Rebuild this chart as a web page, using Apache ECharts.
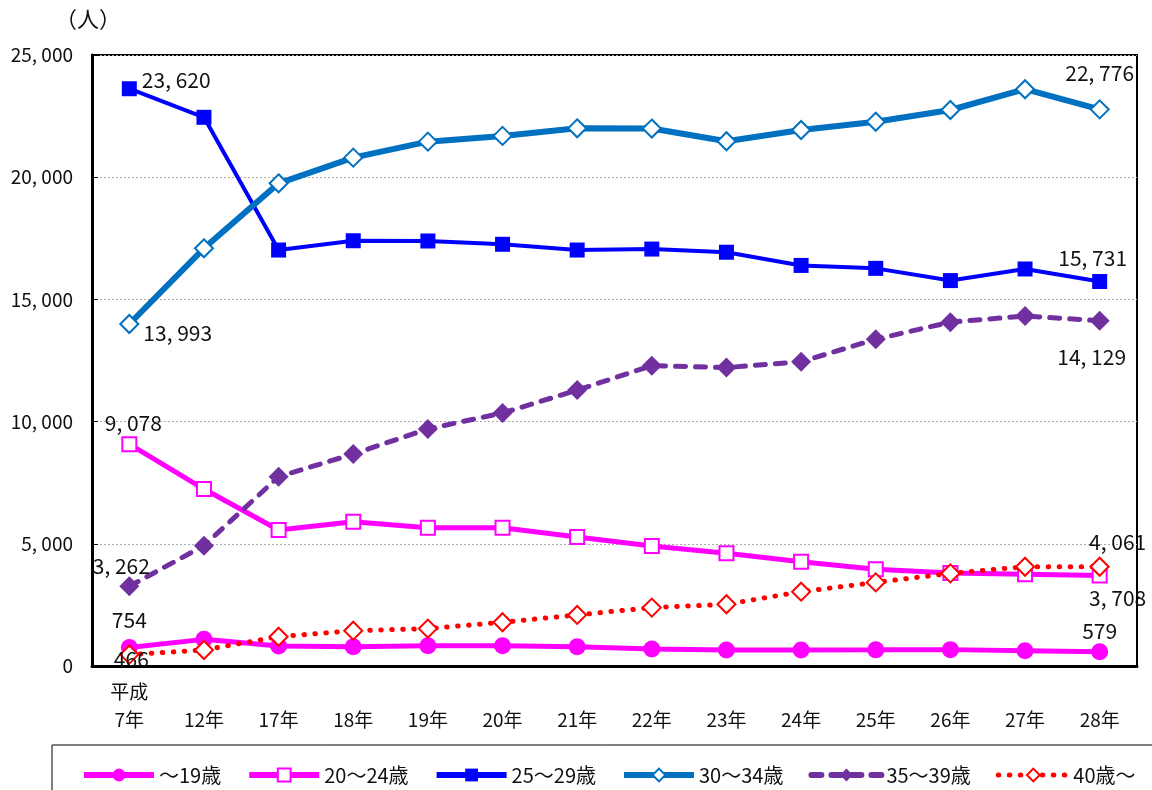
<!DOCTYPE html>
<html>
<head>
<meta charset="utf-8">
<script src="https://cdn.jsdelivr.net/npm/echarts@6/dist/echarts.min.js"></script>
<style>
  html, body { margin: 0; padding: 0; background: #fff; }
  #chart { width: 1152px; height: 790px; }
</style>
</head>
<body>
<div id="chart"></div>
<script>
// 横軸（年）
var years = ['平成\n7年', '12年', '17年', '18年', '19年', '20年', '21年', '22年', '23年', '24年', '25年', '26年', '27年', '28年'];

// 年齢階級別の人数
var age19 = [754, 1090, 820, 790, 830, 830, 790, 695, 655, 655, 660, 670, 625, 579];
var age20_24 = [9078, 7240, 5565, 5905, 5660, 5660, 5280, 4910, 4610, 4270, 3955, 3810, 3750, 3708];
var age25_29 = [23620, 22450, 17020, 17400, 17390, 17255, 17020, 17060, 16930, 16390, 16270, 15770, 16245, 15731];
var age30_34 = [13993, 17090, 19750, 20800, 21455, 21690, 22000, 21990, 21470, 21930, 22270, 22750, 23600, 22776];
var age35_39 = [3262, 4925, 7745, 8675, 9700, 10350, 11290, 12290, 12210, 12450, 13370, 14070, 14320, 14129];
var age40 = [466, 655, 1200, 1445, 1530, 1790, 2090, 2390, 2525, 3040, 3420, 3790, 4060, 4061];

var fmt = function (v) {
    return Number(v).toLocaleString('en-US').replace(/,/g, ', ');
};

// 最初と最後の点だけにラベルを付ける
function withEndLabels(values, firstLabel, lastLabel) {
    return values.map(function (v, i) {
        if (i === 0) return { value: v, label: Object.assign({ show: true }, firstLabel) };
        if (i === values.length - 1) return { value: v, label: Object.assign({ show: true }, lastLabel) };
        return v;
    });
}

var labelText = { fontSize: 21, color: '#111', fontFamily: 'Noto Sans CJK JP', formatter: function (p) { return fmt(p.value); } };

var chart = echarts.init(document.getElementById('chart'));

var option = {
    animation: false,
    textStyle: { fontFamily: 'Noto Sans CJK JP' },
    title: {
        text: '（人）',
        left: 50,
        top: 3,
        textStyle: { fontSize: 22, fontWeight: 'normal', color: '#111' }
    },
    graphic: [{
        type: 'rect',
        shape: { x: 52, y: 745, width: 1200, height: 100 },
        style: { fill: 'none', stroke: '#000', lineWidth: 1 },
        silent: true
    }],
    legend: {
        left: 76,
        top: 760,
        itemWidth: 70,
        itemHeight: 16,
        itemGap: 25,
        textStyle: { fontSize: 20, color: '#111' },
        data: [
            { name: '～19歳', lineStyle: { width: 6 } },
            { name: '20～24歳', lineStyle: { width: 6 } },
            { name: '25～29歳', lineStyle: { width: 6 } },
            { name: '30～34歳', lineStyle: { width: 6 } },
            { name: '35～39歳', lineStyle: { width: 6 } },
            { name: '40歳～', lineStyle: { width: 5 } }
        ]
    },
    grid: {
        left: 92,
        right: 15,
        top: 55,
        bottom: 124,
        show: true,
        borderColor: '#000',
        borderWidth: 2
    },
    xAxis: {
        type: 'category',
        data: years,
        boundaryGap: true,
        axisLine: { lineStyle: { color: '#000', width: 3 } },
        axisTick: { inside: true, length: 6, lineStyle: { color: '#000', width: 1 } },
        axisLabel: {
            fontSize: 19,
            color: '#111',
            lineHeight: 28,
            margin: 12,
            interval: 0,
            formatter: function (v) { return v.indexOf('\n') >= 0 ? v : '\n' + v; }
        }
    },
    yAxis: {
        type: 'value',
        min: 0,
        max: 25000,
        interval: 5000,
        axisLine: { show: true, lineStyle: { color: '#000', width: 3 } },
        axisTick: { show: true, inside: true, length: 6, lineStyle: { color: '#000', width: 1 } },
        splitLine: { lineStyle: { color: '#aaa', type: [2, 2], width: 1 } },
        axisLabel: { fontSize: 19, color: '#111', margin: 19, formatter: fmt }
    },
    series: [
        {
            name: '～19歳',
            type: 'line',
            data: withEndLabels(age19,
                Object.assign({}, labelText, { position: 'top', distance: 9 }),
                Object.assign({}, labelText, { position: 'top', distance: 2 })),
            symbol: 'circle',
            symbolSize: 17,
            lineStyle: { color: '#FF00FF', width: 5 },
            itemStyle: { color: '#FF00FF' }
        },
        {
            name: '20～24歳',
            type: 'line',
            data: withEndLabels(age20_24,
                Object.assign({}, labelText, { position: 'top', distance: 3, offset: [4, 0] }),
                Object.assign({}, labelText, { position: 'bottom', distance: 4, offset: [18, 0] })),
            symbol: 'rect',
            symbolSize: 14,
            lineStyle: { color: '#FF00FF', width: 5 },
            itemStyle: { color: '#fff', borderColor: '#FF00FF', borderWidth: 2 }
        },
        {
            name: '25～29歳',
            type: 'line',
            data: withEndLabels(age25_29,
                Object.assign({}, labelText, { position: 'right', distance: 5, offset: [0, -9] }),
                Object.assign({}, labelText, { position: 'top', distance: 6, offset: [-7, 0] })),
            symbol: 'rect',
            symbolSize: 15,
            lineStyle: { color: '#0000FF', width: 4 },
            itemStyle: { color: '#0000FF' }
        },
        {
            name: '30～34歳',
            type: 'line',
            data: withEndLabels(age30_34,
                Object.assign({}, labelText, { position: 'right', distance: 4, offset: [0, 9] }),
                Object.assign({}, labelText, { position: 'top', distance: 16 })),
            symbol: 'diamond',
            symbolSize: 18,
            lineStyle: { color: '#0070C0', width: 6 },
            itemStyle: { color: '#fff', borderColor: '#0070C0', borderWidth: 2 }
        },
        {
            name: '35～39歳',
            type: 'line',
            data: withEndLabels(age35_39,
                Object.assign({}, labelText, { position: 'top', distance: 0, offset: [-8, 0] }),
                Object.assign({}, labelText, { position: 'bottom', distance: 16, offset: [-8, 0] })),
            symbol: 'diamond',
            symbolSize: 20,
            lineStyle: { color: '#7030A0', width: 5, type: [10, 10], cap: 'round' },
            itemStyle: { color: '#7030A0' }
        },
        {
            name: '40歳～',
            type: 'line',
            data: withEndLabels(age40,
                Object.assign({}, labelText, { position: 'inside', offset: [2, 4] }),
                Object.assign({}, labelText, { position: 'top', distance: 4, offset: [18, 0] })),
            symbol: 'diamond',
            symbolSize: 18,
            lineStyle: { color: '#FF0000', width: 5, type: [0.5, 10.5], cap: 'round' },
            itemStyle: { color: '#fff', borderColor: '#FF0000', borderWidth: 2 }
        }
    ]
};

chart.setOption(option);
</script>
</body>
</html>
